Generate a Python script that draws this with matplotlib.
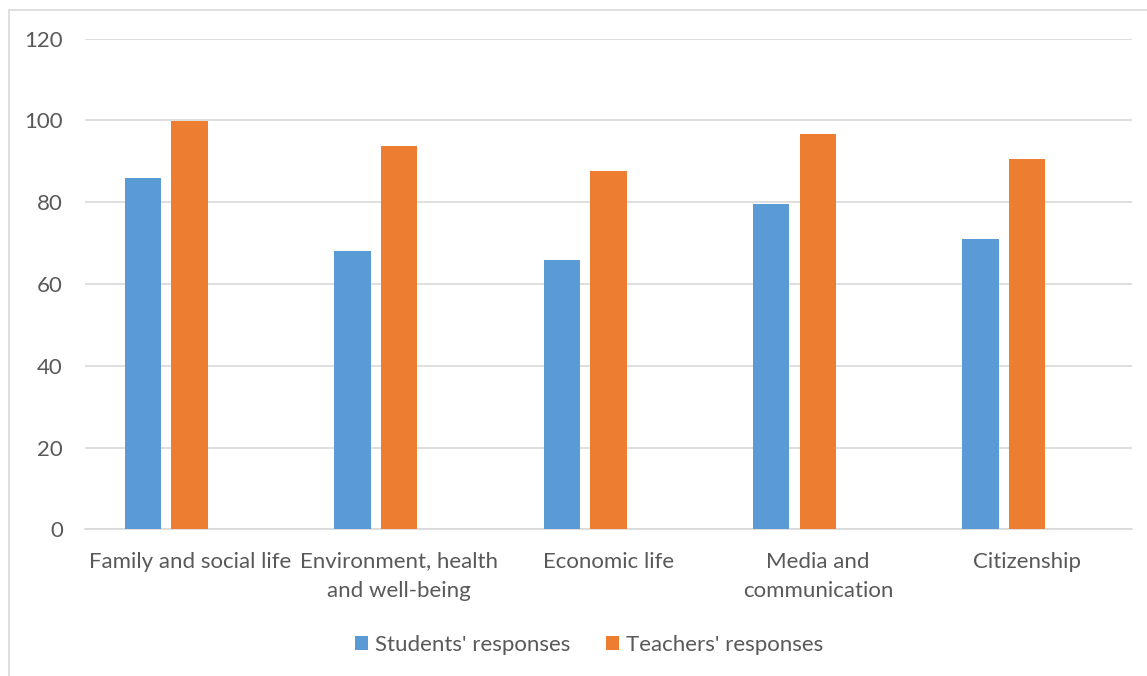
import matplotlib.pyplot as plt
import numpy as np
from matplotlib.patches import Rectangle

plt.rcParams['font.family'] = ['Lato', 'DejaVu Sans']

categories = ['Family and social life', 'Environment, health\nand well-being',
              'Economic life', 'Media and\ncommunication', 'Citizenship']
students = [85.8, 68.1, 65.9, 79.5, 70.9]
teachers = [99.9, 93.8, 87.6, 96.8, 90.6]
yticks = [0, 20, 40, 60, 80, 100, 120]

blue = '#5B9BD5'
orange = '#ED7D31'
grey = '#595959'

fig = plt.figure(figsize=(11.47, 6.76), dpi=100)
ax = fig.add_axes([0.0741, 0.217, 0.9128, 0.7258])

x = np.arange(len(categories))
w = 0.174
step = 0.223
ax.bar(x - step, students, w, color=blue, label="Students' responses", zorder=3)
ax.bar(x, teachers, w, color=orange, label="Teachers' responses", zorder=3)

ax.set_xlim(-0.5, len(categories) - 0.5)
ax.set_ylim(0, 120)
ax.set_yticks(yticks)
ax.set_xticks(x)
ax.set_xticklabels(categories, fontsize=16, color=grey, linespacing=1.6)
ax.tick_params(axis='y', labelsize=16, labelcolor=grey, length=0, pad=16)
ax.tick_params(axis='x', length=0, pad=16)
ax.grid(axis='y', color='#d9d9d9', linewidth=1.2, zorder=0)
for s in ['top', 'right', 'left']:
    ax.spines[s].set_visible(False)
ax.spines['bottom'].set_color('#d9d9d9')
ax.spines['bottom'].set_linewidth(1.2)

ax.legend(loc='center', bbox_to_anchor=(0.514, 0.046), bbox_transform=fig.transFigure,
          ncol=2, frameon=False, fontsize=16, labelcolor=grey,
          handlelength=0.55, handleheight=0.55, handletextpad=0.35, columnspacing=1.6)

# chart border
fig.patches.append(Rectangle((8.5 / 1147, -0.05), 1.1, 1.05 - 10 / 676,
                             transform=fig.transFigure, fill=False,
                             edgecolor='#d9d9d9', linewidth=1.2))

fig.savefig('out.png', dpi=100)
